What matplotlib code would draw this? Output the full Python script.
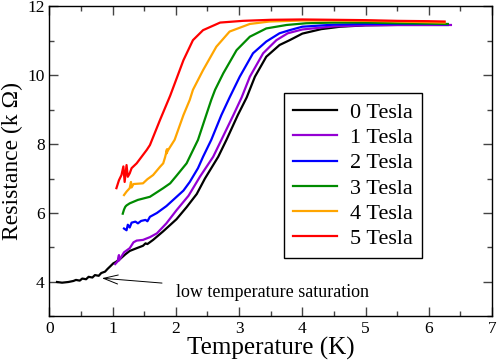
import matplotlib
matplotlib.use("Agg")
import matplotlib.pyplot as plt
from matplotlib.ticker import MultipleLocator

plt.rcParams['font.family'] = ['Liberation Serif', 'DejaVu Serif']

# resistance curves: temperature (K), resistance (kOhm)
t0 = [0.12, 0.2, 0.3, 0.38, 0.42, 0.48, 0.52, 0.58, 0.62, 0.68, 0.72, 0.78, 0.82, 0.88,
      0.92, 0.96, 1.01, 1.05, 1.12, 1.2, 1.27, 1.38, 1.48, 1.52, 1.55, 1.64, 1.8, 2.01,
      2.17, 2.33, 2.46, 2.67, 2.8, 2.98, 3.12, 3.25, 3.43, 3.64, 3.8, 4.0, 4.3, 4.6, 5.0,
      5.5, 6.0, 6.3]
r0 = [4.0, 3.98, 4.0, 4.03, 4.06, 4.04, 4.1, 4.08, 4.15, 4.13, 4.2, 4.18, 4.26, 4.3,
      4.38, 4.45, 4.54, 4.58, 4.67, 4.8, 4.9, 4.98, 5.05, 5.12, 5.1, 5.22, 5.47, 5.82,
      6.17, 6.55, 7.0, 7.63, 8.12, 8.84, 9.35, 9.95, 10.53, 10.87, 11.01, 11.2, 11.33,
      11.4, 11.44, 11.45, 11.45, 11.45]

t1 = [1.04, 1.08, 1.1, 1.1, 1.18, 1.27, 1.33, 1.38, 1.48, 1.59, 1.7, 1.85, 2.01, 2.2,
      2.38, 2.59, 2.72, 2.91, 3.04, 3.17, 3.38, 3.59, 3.77, 4.0, 4.5, 5.0, 5.5, 6.0, 6.35]
r1 = [4.52, 4.6, 4.78, 4.62, 4.86, 4.98, 5.15, 5.2, 5.22, 5.3, 5.41, 5.7, 6.08, 6.5,
      7.05, 7.63, 8.12, 8.84, 9.35, 9.95, 10.63, 11.01, 11.21, 11.32, 11.41, 11.44,
      11.45, 11.45, 11.45]

t2 = [1.18, 1.22, 1.24, 1.27, 1.3, 1.36, 1.4, 1.45, 1.52, 1.55, 1.59, 1.7, 1.85, 2.0,
      2.12, 2.22, 2.35, 2.43, 2.56, 2.72, 2.85, 3.01, 3.22, 3.43, 3.64, 3.8, 4.0, 4.5,
      5.0, 5.5, 6.0, 6.3]
r2 = [5.55, 5.5, 5.66, 5.58, 5.72, 5.75, 5.7, 5.77, 5.8, 5.76, 5.89, 6.0, 6.2, 6.45,
      6.65, 6.9, 7.3, 7.63, 8.12, 8.84, 9.35, 9.95, 10.63, 10.97, 11.21, 11.3, 11.4,
      11.46, 11.48, 11.48, 11.48, 11.47]

t3 = [1.16, 1.18, 1.2, 1.22, 1.27, 1.4, 1.59, 1.8, 1.91, 2.01, 2.17, 2.22, 2.35, 2.48,
      2.56, 2.62, 2.75, 2.96, 3.17, 3.43, 3.75, 4.06, 4.5, 5.0, 5.5, 6.0, 6.3]
r3 = [5.98, 6.1, 6.18, 6.22, 6.28, 6.38, 6.47, 6.72, 6.86, 7.08, 7.44, 7.63, 8.12, 8.84,
      9.28, 9.57, 10.05, 10.72, 11.11, 11.35, 11.45, 11.5, 11.52, 11.52, 11.5, 11.49,
      11.48]

t4 = [1.18, 1.22, 1.27, 1.29, 1.3, 1.33, 1.48, 1.55, 1.64, 1.75, 1.8, 1.83, 1.86, 1.85,
      1.88, 1.98, 2.12, 2.22, 2.27, 2.43, 2.64, 2.85, 3.17, 3.48, 4.0, 4.5, 5.0, 5.5,
      6.0, 6.25]
r4 = [6.52, 6.62, 6.72, 6.9, 6.74, 6.84, 6.86, 6.98, 7.1, 7.34, 7.44, 7.62, 7.85, 7.72,
      7.83, 8.12, 8.84, 9.28, 9.57, 10.14, 10.82, 11.26, 11.48, 11.55, 11.58, 11.58,
      11.57, 11.55, 11.53, 11.52]

t5 = [1.06, 1.1, 1.14, 1.17, 1.19, 1.22, 1.24, 1.27, 1.3, 1.38, 1.54, 1.59, 1.75, 1.91,
      2.12, 2.27, 2.43, 2.7, 3.06, 3.5, 4.0, 5.0, 5.5, 6.0, 6.25]
r5 = [6.72, 6.95, 7.1, 7.35, 6.9, 7.39, 7.05, 7.15, 7.3, 7.44, 7.83, 7.97, 8.7, 9.4,
      10.43, 11.01, 11.3, 11.52, 11.57, 11.6, 11.61, 11.59, 11.57, 11.56, 11.55]

labels = ['0 Tesla', '1 Tesla', '2 Tesla', '3 Tesla', '4 Tesla', '5 Tesla']
colors = ['black', '#9400d3', '#0000ff', '#008b00', '#ffa500', '#ff0000']
temps = [t0, t1, t2, t3, t4, t5]
res = [r0, r1, r2, r3, r4, r5]

fig = plt.figure(figsize=(4.98, 3.62), dpi=100)
ax = fig.add_axes([0.0992, 0.1257, 0.8888, 0.8577])

for t, r, c, lab in zip(temps, res, colors, labels):
    ax.plot(t, r, color=c, lw=1.6, label=lab)

ax.set_xlim(0, 7)
ax.set_ylim(3, 12)
ax.xaxis.set_major_locator(MultipleLocator(1))
ax.xaxis.set_minor_locator(MultipleLocator(0.5))
ax.yaxis.set_major_locator(MultipleLocator(2))
ax.yaxis.set_minor_locator(MultipleLocator(1))
ax.tick_params(which='both', direction='in', top=True, right=True, labelsize=12.5,
               width=1, color='#444444')
ax.tick_params(which='major', length=6.5)
ax.tick_params(which='minor', length=3.6)
for s in ax.spines.values():
    s.set_linewidth(1)

ax.set_xlabel('Temperature (K)', fontsize=18, labelpad=0)
ax.set_ylabel('Resistance (k Ω)', fontsize=17, labelpad=3)

ax.annotate('low temperature saturation', xy=(0.83, 4.11), xytext=(2.0, 3.71),
            fontsize=13, va='center', ha='left',
            arrowprops=dict(arrowstyle='->,head_length=0.8,head_width=0.25',
                            color='black', lw=0.7, shrinkA=8, shrinkB=0))

leg = ax.legend(loc='upper left', bbox_to_anchor=(0.53, 0.72), borderaxespad=0,
                fancybox=False, edgecolor='black', fontsize=16, handlelength=1.95,
                handletextpad=0.6, labelspacing=0.21, borderpad=0.42, framealpha=1)
leg.get_frame().set_linewidth(1)

fig.savefig('out.png', dpi=100)
